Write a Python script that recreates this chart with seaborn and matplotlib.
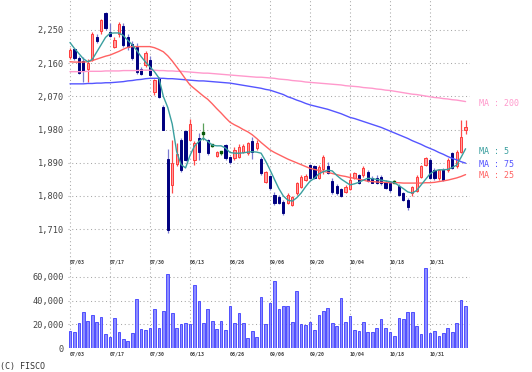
import matplotlib
matplotlib.use("Agg")
import matplotlib.pyplot as plt
import numpy as np
import pandas as pd
import seaborn as sns

# daily prices (open / high / low / close), 07/03 - 11/08
opens = [2177, 2198, 2175, 2165, 2145, 2170, 2232, 2248, 2295, 2245,
         2204, 2238, 2262, 2230, 2212, 2205, 2145, 2155, 2170, 2082,
         2120, 2042, 1900, 1830, 1888, 1952, 1976, 1952, 1898, 1956,
         1970, 1952, 1937, 1909, 1918, 1938, 1905, 1902, 1907, 1920,
         1916, 1950, 1929, 1900, 1839, 1855, 1803, 1798, 1785, 1780,
         1776, 1807, 1825, 1843, 1884, 1880, 1848, 1873, 1880, 1840,
         1826, 1818, 1812, 1818, 1848, 1857, 1857, 1866, 1850, 1850,
         1852, 1837, 1834, 1838, 1826, 1808, 1790, 1807, 1814, 1851,
         1884, 1898, 1871, 1848, 1871, 1871, 1916, 1880, 1920, 1979]
highs = [2201, 2202, 2180, 2178, 2172, 2245, 2240, 2280, 2298, 2270,
         2230, 2272, 2268, 2240, 2220, 2215, 2150, 2193, 2180, 2118,
         2123, 2047, 1927, 1952, 1943, 1956, 1980, 2008, 1950, 1970,
         1997, 1955, 1941, 1922, 1922, 1942, 1908, 1932, 1940, 1941,
         1946, 1960, 1952, 1905, 1869, 1858, 1810, 1802, 1790, 1808,
         1800, 1838, 1856, 1860, 1888, 1885, 1884, 1912, 1892, 1848,
         1832, 1822, 1830, 1862, 1866, 1860, 1880, 1870, 1855, 1856,
         1856, 1842, 1838, 1844, 1832, 1812, 1794, 1828, 1856, 1884,
         1906, 1902, 1875, 1874, 1876, 1902, 1920, 1924, 2007, 2006]
lows = [2171, 2170, 2130, 2110, 2110, 2165, 2215, 2238, 2250, 2230,
        2201, 2232, 2204, 2195, 2170, 2132, 2127, 2149, 2127, 2075,
        2066, 1978, 1701, 1807, 1880, 1866, 1895, 1948, 1885, 1898,
        1952, 1912, 1932, 1905, 1912, 1898, 1886, 1898, 1903, 1917,
        1912, 1900, 1925, 1858, 1835, 1817, 1776, 1777, 1748, 1777,
        1772, 1804, 1822, 1840, 1845, 1846, 1845, 1860, 1860, 1806,
        1804, 1796, 1808, 1815, 1845, 1832, 1852, 1838, 1834, 1832,
        1830, 1818, 1812, 1834, 1800, 1786, 1762, 1800, 1810, 1848,
        1880, 1845, 1844, 1844, 1840, 1866, 1872, 1876, 1916, 1968]
closes = [2196, 2173, 2133, 2138, 2160, 2240, 2220, 2276, 2255, 2235,
          2224, 2265, 2208, 2205, 2175, 2135, 2130, 2188, 2128, 2115,
          2068, 1979, 1708, 1889, 1915, 1871, 1898, 1995, 1945, 1920,
          1970, 1916, 1937, 1918, 1918, 1902, 1891, 1925, 1934, 1936,
          1943, 1918, 1945, 1862, 1866, 1821, 1780, 1780, 1753, 1803,
          1798, 1834, 1852, 1855, 1848, 1850, 1878, 1907, 1862, 1812,
          1808, 1800, 1825, 1844, 1862, 1835, 1875, 1840, 1836, 1835,
          1834, 1822, 1816, 1838, 1804, 1790, 1769, 1824, 1852, 1880,
          1902, 1848, 1848, 1871, 1844, 1898, 1875, 1920, 1961, 1988]

# moving averages as drawn on the chart
ma5 = [2216, 2200, 2186, 2172, 2164, 2170, 2190, 2210, 2230, 2241,
       2242, 2242, 2235, 2222, 2210, 2195, 2178, 2163, 2150, 2137,
       2120, 2070, 2040, 1995, 1920, 1885, 1876, 1910, 1935, 1948,
       1957, 1948, 1938, 1936, 1936, 1930, 1918, 1916, 1916, 1917,
       1919, 1920, 1919, 1916, 1895, 1871, 1845, 1820, 1800, 1789,
       1786, 1795, 1808, 1825, 1840, 1848, 1860, 1866, 1870, 1868,
       1856, 1846, 1838, 1830, 1833, 1837, 1843, 1848, 1847, 1845,
       1843, 1841, 1839, 1836, 1828, 1820, 1811, 1808, 1815, 1830,
       1845, 1860, 1868, 1871, 1871, 1872, 1877, 1884, 1905, 1928]
ma25 = [2164, 2163, 2163, 2163, 2164, 2167, 2171, 2175, 2179, 2182,
        2187, 2192, 2198, 2203, 2205, 2205, 2205, 2205, 2205, 2202,
        2197, 2191, 2180, 2166, 2150, 2134, 2117, 2101, 2091, 2081,
        2071, 2062, 2050, 2037, 2025, 2012, 2000, 1993, 1987, 1980,
        1974, 1966, 1956, 1945, 1935, 1925, 1918, 1912, 1906, 1900,
        1895, 1890, 1885, 1880, 1875, 1872, 1869, 1867, 1864, 1861,
        1858, 1855, 1853, 1850, 1848, 1845, 1843, 1840, 1839, 1838,
        1837, 1837, 1836, 1836, 1836, 1835, 1835, 1835, 1835, 1835,
        1836, 1836, 1837, 1839, 1841, 1843, 1846, 1849, 1853, 1858]
ma75 = [2104, 2104, 2104, 2104, 2105, 2105, 2106, 2106, 2107, 2107,
        2108, 2109, 2110, 2112, 2113, 2115, 2116, 2118, 2119, 2119,
        2119, 2119, 2118, 2118, 2117, 2116, 2115, 2114, 2113, 2112,
        2112, 2111, 2110, 2109, 2108, 2107, 2106, 2104, 2102, 2100,
        2098, 2096, 2094, 2092, 2089, 2087, 2083, 2079, 2075, 2069,
        2065, 2060, 2056, 2051, 2047, 2044, 2041, 2038, 2035, 2031,
        2027, 2023, 2018, 2013, 2010, 2006, 2002, 1998, 1994, 1990,
        1986, 1981, 1976, 1971, 1966, 1961, 1956, 1950, 1945, 1940,
        1934, 1929, 1924, 1918, 1913, 1907, 1902, 1898, 1893, 1889]
ma200 = [2137, 2137, 2137, 2137, 2138, 2138, 2138, 2138, 2139, 2139,
         2139, 2139, 2140, 2140, 2140, 2140, 2141, 2141, 2141, 2141,
         2140, 2140, 2139, 2139, 2138, 2138, 2137, 2136, 2135, 2134,
         2133, 2133, 2132, 2131, 2130, 2129, 2128, 2127, 2126, 2125,
         2124, 2123, 2122, 2122, 2121, 2120, 2119, 2117, 2116, 2115,
         2113, 2112, 2111, 2109, 2108, 2107, 2106, 2105, 2104, 2103,
         2102, 2101, 2099, 2098, 2097, 2096, 2094, 2093, 2092, 2090,
         2089, 2087, 2086, 2084, 2082, 2080, 2078, 2076, 2075, 2073,
         2071, 2069, 2067, 2066, 2064, 2063, 2061, 2060, 2058, 2056]

# volume in thousands of shares
volume_k = [14.5, 14, 20.9, 30.7, 22.9, 27.9, 22.3, 26.5, 12, 9.8,
            25.1, 14, 7.8, 6.1, 13.1, 41, 15.9, 15.3, 17.3, 32.6,
            17.3, 31.2, 61.9, 29.9, 16.7, 20.4, 20.9, 20.4, 53, 39.6,
            21.5, 32.6, 23.2, 15.9, 23.2, 15.3, 35.4, 21.5, 29.3, 20.9,
            8.4, 14.5, 9.8, 43.2, 20, 38.2, 56.4, 32.6, 35.4, 35.4,
            22.3, 48, 20, 19.5, 22.3, 15.3, 27.9, 31.2, 34, 21.5,
            18.7, 41.9, 22.3, 27.1, 15.3, 14.5, 22.3, 14, 14, 16.7,
            24.3, 16.7, 14, 10.3, 25.7, 24.3, 30.1, 30.1, 18.7, 12,
            67, 12.6, 14.5, 10.3, 13.1, 16.7, 14, 20.9, 40.5, 35.4]

date_labels = ["07/03", "07/17", "07/30", "08/13", "08/26",
               "09/06", "09/20", "10/04", "10/18", "10/31"]
date_pos = [0, 9, 18, 27, 36, 45, 54, 63, 72, 81]
price_ticks = [1710, 1800, 1890, 1980, 2070, 2160, 2250]
vol_ticks = [0, 20000, 40000, 60000]

df = pd.DataFrame({"day": np.arange(len(closes)), "open": opens, "high": highs,
                   "low": lows, "close": closes, "ma5": ma5, "ma25": ma25,
                   "ma75": ma75, "ma200": ma200,
                   "volume": np.array(volume_k) * 1000})

sns.set_style("white")
plt.rcParams['font.family'] = ['DejaVu Sans Mono']

W, H = 532, 372
fig = plt.figure(figsize=(W / 100, H / 100), dpi=100)
ax = fig.add_axes([68 / W, 1 - 268 / H, 402 / W, 268 / H])
axv = fig.add_axes([68 / W, 1 - 348.3 / H, 402 / W, 80.3 / H])

grid_kw = dict(color="#a8a8a8", linestyle=(0, (1, 2.6)), linewidth=0.75)

# candles
up = df[df.close > df.open]
down = df[df.close < df.open]
flat = df[df.close == df.open]
ax.vlines(up.day, up.low, up.high, color="#ff4a4a", lw=0.9, zorder=3)
ax.bar(up.day, up.close - up.open, bottom=up.open, width=0.5,
       color="#ff9c9c", edgecolor="#ff3a3a", linewidth=0.7, zorder=4)
ax.vlines(down.day, down.low, down.high, color="#7a7ad0", lw=0.9, zorder=3)
ax.bar(down.day, down.open - down.close, bottom=down.close, width=0.5,
       color="#000080", edgecolor="#000080", linewidth=0.7, zorder=4)
ax.vlines(flat.day, flat.low, flat.high, color="#5aa05a", lw=0.9, zorder=3)
ax.scatter(flat.day, flat.close, marker="s", s=4, color="#0a5a0a", zorder=4)

# moving averages
for col, colour in [("ma200", "#ff99cc"), ("ma75", "#5555ff"),
                    ("ma25", "#ff6262"), ("ma5", "#3a9f9f")]:
    sns.lineplot(data=df, x="day", y=col, ax=ax, color=colour, lw=1.0,
                 legend=False, zorder=5)

ax.set_xlim(-0.45, 90)
ax.set_ylim(1604.8, 2331.3)
ax.set_xticks(date_pos)
ax.set_yticks(price_ticks)
ax.set_yticklabels([f"{t:,}" for t in price_ticks])
ax.grid(True, **grid_kw)
ax.tick_params(length=0, labelbottom=False, labelsize=6.2, labelcolor="#444444", pad=3)
ax.set_xlabel("")
ax.set_ylabel("")
for s in ax.spines.values():
    s.set_visible(False)
for p, lab in zip(date_pos, date_labels):
    ax.text(p, 0.024, lab, transform=ax.get_xaxis_transform(), fontsize=3.6,
            fontweight="bold", color="#444444", ha="left", va="center")

# volume
sns.barplot(data=df, x="day", y="volume", ax=axv, native_scale=True,
            width=0.62, color="#8c8cff", edgecolor="#3c3cff", linewidth=0.6,
            saturation=1, errorbar=None, zorder=3)
axv.set_xlim(-0.45, 90)
axv.set_ylim(0, 67200)
axv.set_xticks(date_pos)
axv.set_yticks(vol_ticks)
axv.set_yticklabels([f"{t:,}" for t in vol_ticks])
axv.grid(True, **grid_kw)
axv.get_ygridlines()[0].set_visible(False)
axv.tick_params(length=0, labelbottom=False, labelsize=6.2, labelcolor="#444444", pad=3)
axv.set_xlabel("")
axv.set_ylabel("")
for s in axv.spines.values():
    s.set_visible(False)
for p, lab in zip(date_pos, date_labels):
    axv.text(p, -0.071, lab, transform=axv.get_xaxis_transform(), fontsize=3.6,
             fontweight="bold", color="#444444", ha="left", va="center")

# moving average labels on the right
for label, y, colour in [("MA : 200", 103, "#ff99cc"), ("MA : 5", 151, "#3a9f9f"),
                         ("MA : 75", 164, "#5555ff"), ("MA : 25", 176, "#ff6262")]:
    fig.text(479 / W, 1 - y / H, label, color=colour, fontsize=6, va="center")

fig.text(0.5 / W, 1 - 367 / H, "(C) FISCO", color="#333333", fontsize=6, va="center")

fig.savefig("out.png", dpi=100)
